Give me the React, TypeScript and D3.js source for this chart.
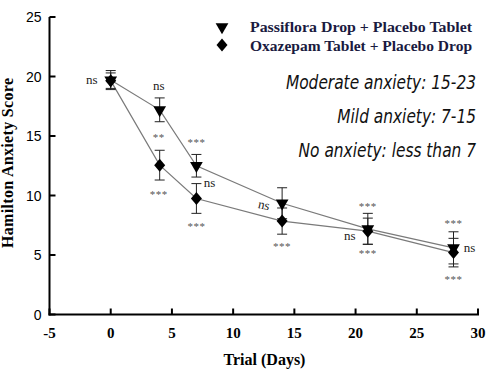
import React from "react";
import * as d3 from "d3";

const days = [0, 4, 7, 14, 21, 28];
const passifloraMean = [19.7, 17.2, 12.5, 9.35, 7.2, 5.6];
const passifloraErr = [0.8, 1.0, 0.95, 1.3, 1.3, 1.35];
const oxazepamMean = [19.65, 12.55, 9.75, 7.85, 7.0, 5.2];
const oxazepamErr = [0.65, 1.25, 1.25, 1.1, 1.1, 1.2];
const xTicks = [-5, 0, 5, 10, 15, 20, 25, 30];
const yTicks = [0, 5, 10, 15, 20, 25];
const legendLabels = ["Passiflora Drop + Placebo Tablet", "Oxazepam Tablet + Placebo Drop"];
const notes = ["Moderate anxiety: 15-23", "Mild anxiety: 7-15", "No anxiety: less than 7"];
// significance labels: text, day, value (label baseline in data units), horizontal offset
const sigLabels = ["ns", "ns", "**", "***", "***", "ns", "***", "ns", "***", "***", "ns", "***", "***", "ns", "***"];
const sigDays = [0, 4, 4, 4, 7, 7, 7, 14, 14, 21, 21, 21, 28, 28, 28];
const sigValues = [19.37, 18.9, 14.62, 9.79, 14.12, 10.71, 7.14, 8.85, 5.46, 8.82, 6.26, 4.79, 7.35, 5.29, 2.65];
const sigDx = [-19, -1, -1, -1, 0, 13, 0, -19, 0, 0, -18, 0, 0, 16, 0];

const x = d3.scaleLinear().domain([-5, 30]).range([49.5, 478]);
const y = d3.scaleLinear().domain([0, 25]).range([314.5, 17]);

const line = d3
  .line<[number, number]>()
  .x((d) => x(d[0]))
  .y((d) => y(d[1]));

const triPath = d3.symbol(d3.symbolTriangle, 70)();
const diaPath = "M0,-6.5L5.5,0L0,6.5L-5.5,0Z";

function ErrorBars({ means, errs }: { means: number[]; errs: number[] }) {
  return (
    <g stroke="#222" strokeWidth={1} fill="none">
      {days.map((d, i) => {
        const cx = x(d);
        const top = y(means[i] + errs[i]);
        const bot = y(means[i] - errs[i]);
        return (
          <g key={i}>
            <line x1={cx} x2={cx} y1={top} y2={bot} />
            <line x1={cx - 5} x2={cx + 5} y1={top} y2={top} />
            <line x1={cx - 5} x2={cx + 5} y1={bot} y2={bot} />
          </g>
        );
      })}
    </g>
  );
}

export default function App() {
  const pPts = days.map((d, i) => [d, passifloraMean[i]] as [number, number]);
  const oPts = days.map((d, i) => [d, oxazepamMean[i]] as [number, number]);
  const serif = "'Liberation Serif', 'Times New Roman', serif";
  const sans = "'Liberation Sans', Arial, sans-serif";
  return (
    <svg
      width={490}
      height={383}
      style={{ position: "absolute", left: 0, top: 0, background: "#fff" }}
    >
      {/* lines */}
      <path d={line(pPts) || ""} fill="none" stroke="#7a7a7a" strokeWidth={1.2} />
      <path d={line(oPts) || ""} fill="none" stroke="#7a7a7a" strokeWidth={1.2} />
      <ErrorBars means={passifloraMean} errs={passifloraErr} />
      <ErrorBars means={oxazepamMean} errs={oxazepamErr} />
      {pPts.map((p, i) => (
        <path
          key={"p" + i}
          d={triPath || ""}
          transform={`translate(${x(p[0])},${y(p[1])}) rotate(180)`}
          fill="#000"
        />
      ))}
      {oPts.map((p, i) => (
        <path key={"o" + i} d={diaPath} transform={`translate(${x(p[0])},${y(p[1])})`} fill="#000" />
      ))}

      {/* significance labels */}
      {sigLabels.map((t, i) => {
        const isStar = t.includes("*");
        const px = x(sigDays[i]) + sigDx[i];
        const py = y(sigValues[i]);
        return (
          <text
            key={"s" + i}
            x={px}
            y={py}
            textAnchor="middle"
            fontFamily={serif}
            fontSize={isStar ? 11 : 13}
            fill={isStar ? "#555" : "#222"}
            letterSpacing={isStar ? 0.5 : 0}
            transform={sigDays[i] === 14 && t === "ns" ? `rotate(12,${px},${py})` : undefined}
          >
            {t}
          </text>
        );
      })}

      {/* axes */}
      <g stroke="#000" strokeWidth={2}>
        <line x1={x(-5)} x2={x(-5)} y1={y(25)} y2={y(0) + 1} />
        <line x1={x(-5) - 1} x2={x(30) + 1} y1={y(0)} y2={y(0)} />
        {yTicks.map((t) => (
          <line key={"yt" + t} x1={x(-5)} x2={x(-5) + 6} y1={y(t)} y2={y(t)} />
        ))}
        {xTicks.map((t) => (
          <line key={"xt" + t} x1={x(t)} x2={x(t)} y1={y(0)} y2={y(0) - 6} />
        ))}
      </g>
      {yTicks.map((t) => (
        <text
          key={"yl" + t}
          x={x(-5) - 8}
          y={y(t) + 5}
          textAnchor="end"
          fontFamily={sans}
          fontSize={14}
          fill="#000"
        >
          {t}
        </text>
      ))}
      {xTicks.map((t) => (
        <text
          key={"xl" + t}
          x={x(t)}
          y={y(0) + 23}
          textAnchor="middle"
          fontFamily={serif}
          fontWeight="bold"
          fontSize={15}
          fill="#000"
        >
          {t}
        </text>
      ))}
      <text
        x={264.5}
        y={365}
        textAnchor="middle"
        fontFamily={serif}
        fontWeight="bold"
        fontSize={16}
        fill="#000"
      >
        Trial (Days)
      </text>
      <text
        transform={`translate(13,163) rotate(-90)`}
        textAnchor="middle"
        fontFamily={serif}
        fontWeight="bold"
        fontSize={16}
        textLength={170}
        lengthAdjust="spacing"
        fill="#000"
      >
        Hamilton Anxiety Score
      </text>

      {/* legend */}
      <path d={triPath || ""} transform="translate(222,27) rotate(180)" fill="#000" />
      <path d={diaPath} transform="translate(222,45)" fill="#000" />
      {legendLabels.map((l, i) => (
        <text
          key={"lg" + i}
          x={250}
          y={32 + i * 19}
          fontFamily={serif}
          fontWeight="bold"
          fontSize={15.5}
          textLength={222}
          lengthAdjust="spacingAndGlyphs"
          fill="#1a1a40"
        >
          {l}
        </text>
      ))}

      {/* notes (right-aligned at x=476) */}
      {notes.map((n, i) => (
        <text
          key={"n" + i}
          transform={`translate(476,${89 + i * 34}) scale(1,1.25)`}
          textAnchor="end"
          fontFamily="'DejaVu Sans', sans-serif"
          fontStyle="italic"
          fontWeight={300}
          fontSize={15.4}
          fill="#111"
        >
          {n}
        </text>
      ))}
    </svg>
  );
}
